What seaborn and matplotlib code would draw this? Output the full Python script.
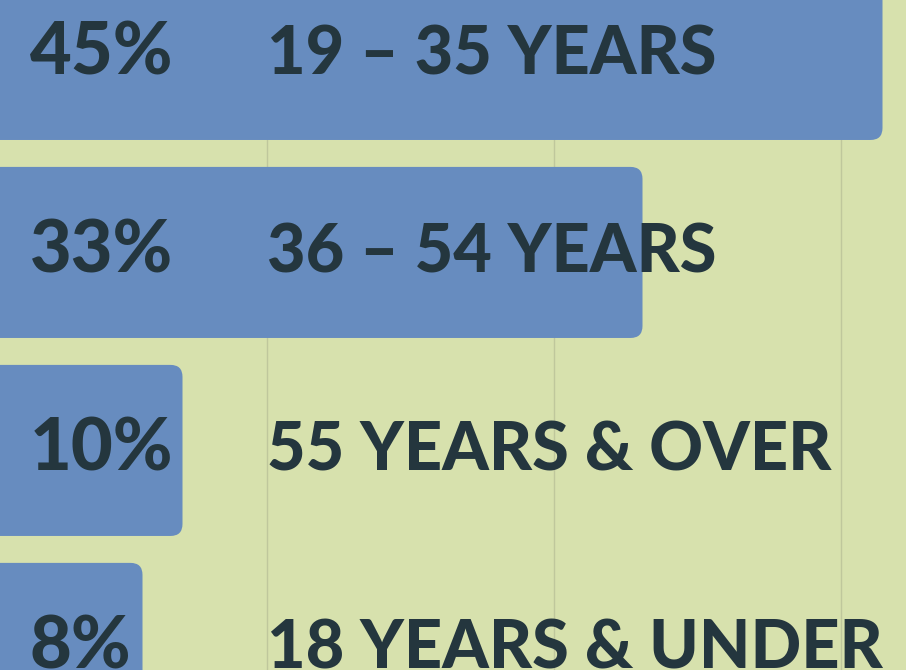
import matplotlib
matplotlib.use("Agg")
import matplotlib.pyplot as plt
import seaborn as sns
import pandas as pd
from matplotlib.patches import FancyBboxPatch

groups = ["19 – 35 YEARS", "36 – 54 YEARS", "55 YEARS & OVER", "18 YEARS & UNDER"]
shares = [45, 33, 10, 8]
share_labels = ["45%", "33%", "10%", "8%"]

bg = "#d7e1ad"
bar_col = "#678cbf"
ink = "#24363e"

sns.set_theme(style="white")
plt.rcParams['font.family'] = ['Lato', 'DejaVu Sans']

df = pd.DataFrame({"group": groups, "share": shares})

fig = plt.figure(figsize=(9.06, 6.70), dpi=100)
fig.patch.set_facecolor(bg)
ax = fig.add_axes([0, 0, 1, 1])
ax.set_facecolor(bg)

sns.barplot(data=df, x="share", y="group", orient="h", color=bar_col,
            width=0.864, saturation=1, ax=ax)

# swap flat bars for rounded ones
for p in list(ax.patches):
    x0, y0, w, h = p.get_x(), p.get_y(), p.get_width(), p.get_height()
    p.remove()
    ax.add_patch(FancyBboxPatch((x0 - 5, y0), w + 5, h,
                                boxstyle="round,pad=0,rounding_size=0.6",
                                mutation_aspect=20 / 198,
                                fc=bar_col, ec="none", zorder=2))

ax.set_xlim(0.875, 46.175)
ax.set_ylim(3.109, -0.275)
ax.set_xticks([14.225, 28.575, 42.925])
ax.xaxis.grid(True, color="#bfc79c", lw=1)
ax.set_axisbelow(True)
ax.tick_params(labelbottom=False, labelleft=False, length=0)
ax.set_xlabel("")
ax.set_ylabel("")
for s in ax.spines.values():
    s.set_visible(False)

for i, (lab, g) in enumerate(zip(share_labels, groups)):
    ax.text(2.375, i + 0.1, lab, ha="left", va="baseline", fontsize=52,
            fontweight="black", color=ink, zorder=3)
    ax.text(14.225, i + 0.1, g, ha="left", va="baseline", fontsize=48,
            fontweight="black", color=ink, zorder=3)

fig.savefig("out.png", dpi=100, facecolor=bg)
